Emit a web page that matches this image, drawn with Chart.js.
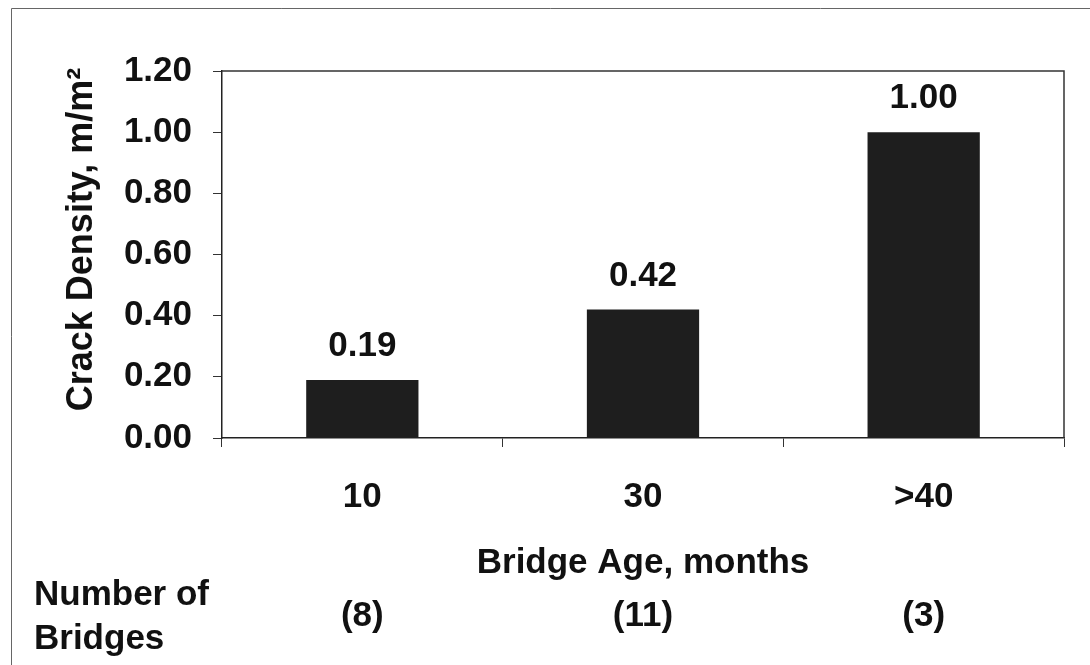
<!DOCTYPE html>
<html>
<head>
<meta charset="utf-8">
<script src="https://cdn.jsdelivr.net/npm/chart.js@4"></script>
<style>
  html, body { margin: 0; padding: 0; background: #fff; }
  #wrap { width: 1090px; height: 665px; }
</style>
</head>
<body>
<div id="wrap"><canvas id="chart" width="1090" height="665"></canvas></div>
<script>
const ageLabels = ['10', '30', '>40'];
const crackDensity = [0.19, 0.42, 1.00];
const bridgeCounts = ['(8)', '(11)', '(3)'];
const yTicks = [0, 0.2, 0.4, 0.6, 0.8, 1.0, 1.2];

const FONT = "'Liberation Sans', Arial, sans-serif";
const INK = '#111';

// thin frame on top and left edge, box round the plot
const framePlugin = {
  id: 'frame',
  beforeDraw(chart) {
    const ctx = chart.ctx;
    ctx.save();
    ctx.strokeStyle = '#666';
    ctx.lineWidth = 1;
    ctx.beginPath();
    ctx.moveTo(11.5, 665);
    ctx.lineTo(11.5, 8.5);
    ctx.lineTo(1090, 8.5);
    ctx.stroke();
    ctx.restore();
  },
  afterDatasetsDraw(chart) {
    const { ctx, chartArea: a } = chart;
    ctx.save();
    ctx.strokeStyle = '#333';
    ctx.lineWidth = 1.5;
    ctx.beginPath();
    ctx.moveTo(a.left, a.top);
    ctx.lineTo(a.right, a.top);
    ctx.lineTo(a.right, a.bottom);
    ctx.stroke();
    ctx.restore();
  }
};

// value labels over bars + number of bridges row
const labelPlugin = {
  id: 'labels',
  afterDraw(chart) {
    const ctx = chart.ctx;
    const meta = chart.getDatasetMeta(0);
    const xs = chart.scales.x;
    ctx.save();
    ctx.fillStyle = INK;
    ctx.font = 'bold 35px ' + FONT;
    ctx.textAlign = 'center';
    ctx.textBaseline = 'alphabetic';
    meta.data.forEach((bar, i) => {
      ctx.fillText(crackDensity[i].toFixed(2), bar.x, bar.y - 24);
    });
    ctx.textBaseline = 'middle';
    bridgeCounts.forEach((c, i) => {
      ctx.fillText(c, xs.getPixelForValue(i), 616);
    });
    ctx.textAlign = 'left';
    ctx.fillText('Number of', 34, 595);
    ctx.fillText('Bridges', 34, 639);
    ctx.restore();
  }
};

new Chart(document.getElementById('chart'), {
  type: 'bar',
  data: {
    labels: ageLabels,
    datasets: [{
      data: crackDensity,
      backgroundColor: '#1e1e1e',
      borderWidth: 0,
      barPercentage: 0.4,
      categoryPercentage: 1.0
    }]
  },
  options: {
    responsive: false,
    animation: false,
    layout: { padding: { top: 71, right: 26, bottom: 0, left: 0 } },
    plugins: {
      legend: { display: false },
      tooltip: { enabled: false }
    },
    scales: {
      x: {
        afterFit(scale) { scale.height = 227; },
        grid: {
          offset: true,
          drawOnChartArea: false,
          drawTicks: true,
          tickLength: 9,
          color: '#333'
        },
        border: { display: true, color: '#222', width: 1.5 },
        ticks: {
          color: INK,
          padding: 29,
          font: { family: FONT, size: 35, weight: 'bold' }
        },
        title: {
          display: true,
          text: 'Bridge Age, months',
          color: INK,
          font: { family: FONT, size: 35, weight: 'bold' },
          padding: { top: 0, bottom: 81 }
        }
      },
      y: {
        min: 0,
        max: 1.2,
        afterFit(scale) { scale.width = 222; },
        afterBuildTicks(scale) { scale.ticks = yTicks.map(v => ({ value: v })); },
        grid: {
          drawOnChartArea: false,
          drawTicks: true,
          tickLength: 9,
          color: '#333'
        },
        border: { display: true, color: '#222', width: 1.5 },
        ticks: {
          color: INK,
          padding: 21,
          font: { family: FONT, size: 35, weight: 'bold' },
          callback: (v) => Number(v).toFixed(2)
        },
        title: {
          display: true,
          text: '   Crack Density, m/m\u00B2',
          color: INK,
          font: { family: FONT, size: 36, weight: 'bold' },
          padding: { top: 60, bottom: 0 }
        }
      }
    }
  },
  plugins: [framePlugin, labelPlugin]
});
</script>
</body>
</html>
